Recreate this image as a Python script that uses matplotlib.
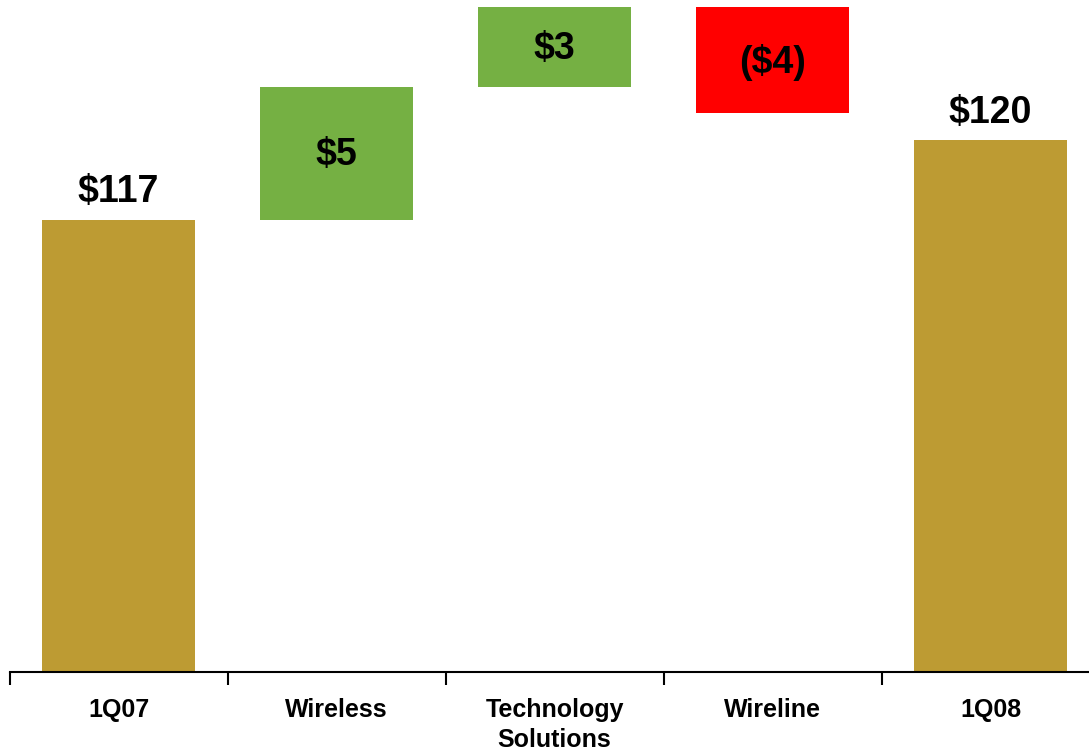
import matplotlib.pyplot as plt

plt.rcParams['font.family'] = ['Liberation Sans', 'DejaVu Sans']

categories = ['1Q07', 'Wireless', 'Technology\nSolutions', 'Wireline', '1Q08']
start_value = 117
changes = [5, 3, -4]
end_value = 120

gold = '#BD9B33'
green = '#75B043'
red = '#FF0000'

fig = plt.figure(figsize=(10.89, 7.52), dpi=100)
ax = fig.add_axes([9.5 / 1089, 80 / 752, 1090 / 1089, 665 / 752])

# totals at both ends, floating bars for the changes in between
ax.bar(0, start_value, width=0.7, color=gold)
ax.text(0, start_value + 0.35, '$%d' % start_value, ha='center', va='bottom',
        fontsize=27, fontweight='bold')

level = start_value
for i, delta in enumerate(changes, start=1):
    color = green if delta > 0 else red
    ax.bar(i, abs(delta), bottom=min(level, level + delta), width=0.7, color=color)
    label = '$%d' % delta if delta > 0 else '($%d)' % abs(delta)
    ax.text(i, level + delta / 2 - 0.08, label, ha='center', va='center',
            fontsize=27, fontweight='bold')
    level += delta

ax.bar(4, end_value, width=0.7, color=gold)
ax.text(4, end_value + 0.35, '$%d' % end_value, ha='center', va='bottom',
        fontsize=27, fontweight='bold')

ax.set_xlim(-0.5, 4.5)
ax.set_ylim(100, 125)

for side in ['top', 'right', 'left']:
    ax.spines[side].set_visible(False)
ax.spines['bottom'].set_linewidth(1.5)
ax.set_yticks([])

ax.set_xticks(range(len(categories)))
ax.set_xticklabels(categories, fontsize=18, fontweight='bold', linespacing=1.3)
ax.tick_params(axis='x', which='major', length=0, pad=19)
ax.set_xticks([i - 0.5 for i in range(len(categories))], minor=True)
ax.tick_params(axis='x', which='minor', length=9, width=1.5, direction='out')

fig.savefig('out.png', dpi=100)
